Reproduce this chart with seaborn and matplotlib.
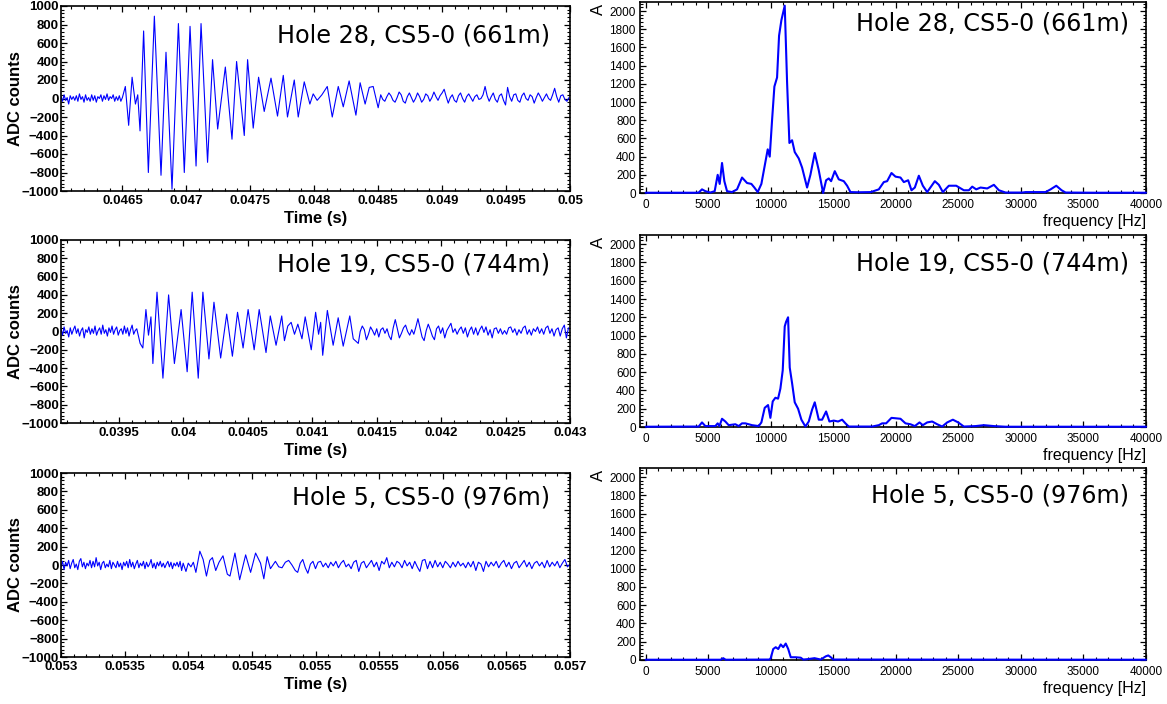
import numpy as np
import pandas as pd
import matplotlib
matplotlib.use('Agg')
import matplotlib.pyplot as plt
from matplotlib.ticker import MultipleLocator, AutoMinorLocator, FormatStrFormatter
import seaborn as sns

# ---- waveform data (time in microseconds, ADC counts) ----
# Hole 28: pre-trigger noise sampled every 12 us from 46020 us
h28_pre_start, h28_pre_step = 46020, 12
h28_pre_adc = [20, -30, 40, -20, 10, -60, 30, -10, 20, -20, 30, -30, 50, -10, 20, -40, 40, -20, 10, -30,
               40, -20, 30, -40, 20, 0, 40, -30, 30, -10, 50, -20, 20, 0, 40, -30, 20, -20, 30, -30]
# main arrival, peaks and troughs
h28_evt_us = [46500, 46523, 46549, 46576, 46602, 46620, 46638, 46666, 46703, 46750, 46802, 46841, 46888,
              46938, 46984, 47029, 47076, 47115, 47166, 47205, 47245, 47305, 47357, 47393, 47453, 47479,
              47523, 47565, 47609, 47662, 47713, 47758, 47791, 47844, 47875, 47922, 47966, 47992, 48023,
              48060, 48102, 48141, 48188, 48227, 48273, 48326, 48359, 48398, 48430, 48461, 48500]
h28_evt_adc = [10, 130, -290, 230, -60, 40, -350, 730, -800, 890, -830, 500, -980,
               810, -800, 780, -730, 810, -690, 420, -330, 340, -440, 400, -400, 420,
               -320, 230, -140, 220, -190, 250, -200, 200, -200, 180, -60, 50, -20,
               40, 130, -200, 130, -90, 190, -180, 170, -60, 120, 130, -100]
# tail, every 16 us from 48520 us
h28_tail_start, h28_tail_step = 48520, 16
h28_tail_adc = [40, -10, -30, 20, 60, 30, -20, -40, 10, 70, 40, -30, -50, 20, 60, 10, -40, 0, 60, 20,
                -40, -10, 50, 30, -30, 10, 70, 20, -20, 30, 60, 100, 20, -50, 10, 40, -20, -40, 30, 60,
                0, -40, 20, 50, 10, -30, 20, 40, -10, 0, 40, 130, 30, -30, 20, 60, -10, -40, 30, 50,
                -20, -70, 120, 20, -30, 40, 50, -20, -40, 30, 60, 0, -20, 40, 20, -50, 10, 60, 20, -30,
                10, 50, 0, -20, 40, 110, 20, -40, 30, 40, -10, -30, 10]

# Hole 19
h19_pre_start, h19_pre_step = 39050, 12
h19_pre_adc = [30, -40, 50, -20, 10, -60, 40, -30, 20, 60, -20, 30, -50, 10, 40, -70, 20, -10, 50, -30,
               30, -20, 60, -40, 10, 40, -30, 70, -20, 20, -50, 40, -10, 60, -30, 20, 50, -40, 10, 30,
               -30, 60, -20, 40, -50, 20, 70, -30, 10, 30]
h19_evt_us = [39664, 39685, 39709, 39729, 39748, 39763, 39795, 39841, 39885, 39930, 39982, 40029, 40068,
              40115, 40151, 40198, 40237, 40289, 40336, 40380, 40420, 40463, 40502, 40549, 40588, 40641,
              40674, 40719, 40763, 40784, 40810, 40836, 40862, 40888, 40920, 40945, 40992, 41026, 41049,
              41065, 41081, 41117, 41162, 41201, 41240, 41291, 41318, 41357]
h19_evt_adc = [-130, -180, 240, -40, 160, -350, 430, -510, 400, -350, 240, -440, 430,
               -510, 430, -300, 320, -290, 190, -270, 210, -180, 240, -200, 240, -230,
               170, -150, 170, -100, 60, 100, -30, 80, -80, 160, -200, 210, -30,
               100, -260, 230, -150, 150, -160, 170, -80, -130]
h19_tail_start, h19_tail_step = 41372, 16
h19_tail_adc = [0, 60, 20, -90, -30, 50, 10, -40, 30, -60, 20, 40, -20, 30, -50, -90, 40, 130, 30, -70,
                -20, 40, 70, 0, -40, 20, -30, 50, 140, 40, -60, -100, 10, 80, 20, -50, -90, 30, 60, -20,
                40, -70, 10, 50, 90, -10, 30, -30, 20, 50, -20, 40, -60, 10, 50, -30, 40, -40, 20, 60,
                -10, 50, -40, 20, -70, 30, 40, -20, 30, -30, 10, -30, 40, 50, -10, 30, -40, 20, -20, 40,
                60, -30, 20, -40, 30, 0, 50, -20, 30, -30, 40, 60, -20, 30, -50, 20, 40, -50, 30, 70,
                -70, 40]

# Hole 5
h5_pre_start, h5_pre_step = 53000, 12
h5_pre_adc = [-20, 40, -50, 30, -10, 50, -40, 20, 60, -30, 10, -50, 40, 70, -20, 30, -40, 20, -10, 50,
              -30, 40, -20, 80, -10, 30, -50, 20, 40, -30, 10, -20, 50, -40, 30, 0, -30, 40, -20, 20,
              -50, 30, -10, 40, -30, 60, -20, 30, -40, 10, 50, -30, 20, -10, 40, -40, 30, -20, 10, 60,
              -30, 20, -40, 30, -10, 40, -20, 20, -30, 10, 40, -20, 30, -40, 20, -10, 30, -20, 40, -60,
              20]
h5_evt_us = [53982, 54000, 54021, 54040, 54060, 54091, 54117, 54143, 54169, 54190, 54216, 54242, 54273,
             54307, 54328, 54367, 54404, 54451, 54490, 54529, 54568, 54594, 54620, 54646, 54685, 54711,
             54737, 54763, 54789, 54815, 54841]
h5_evt_adc = [-70, 20, -20, 30, -80, 150, 60, -120, 50, 80, -60, 30, 100,
              -100, -120, 130, -160, 110, -80, 130, 20, -150, 90, -40, 40, -20,
              -30, 30, 50, 0, -60]
h5_tail_start, h5_tail_step = 54860, 20
h5_tail_adc = [-80, 20, 60, -30, -90, 10, 40, -40, 30, 40, -20, 20, -30, 30, -10, 40, -30, 20, 50, -20,
               10, -40, 30, 50, -70, 20, 40, -30, 10, 50, -20, 30, -60, 40, 10, 80, -30, 30, -20, 40,
               20, -30, 50, -10, 30, -40, 40, -20, -70, 50, 60, -40, 40, -30, 50, -20, 30, -30, 40, 10,
               -30, 30, -20, 40, -10, 20, -30, 30, -20, 40, -60, 30, 10, -70, 40, -20, 30, -10, 40, -30,
               20, 50, -20, 30, -40, 20, 40, -30, 10, 50, -20, 30, -40, 20, 40, -10, 30, -30, 50, -20,
               30, -10, 40, -30, 20, 60, -20, 10]

# ---- spectra (frequency in Hz, |A|) ----
h28_freq = [0, 4000, 4240, 4507, 4773, 5173, 5520, 5760, 5920, 6107, 6293, 6507, 6907, 7307, 7707, 8107,
            8453, 8693, 8960, 9253, 9520, 9760, 9920, 10107, 10293, 10507, 10667, 10853, 11120, 11307,
            11493, 11707, 11920, 12240, 12507, 12907, 13173, 13520, 13840, 14187, 14427, 14640, 14827,
            15120, 15440, 15840, 16107, 16373, 17000, 18000, 18640, 19040, 19307, 19653, 19973, 20373,
            20640, 20987, 21253, 21520, 21840, 22160, 22507, 23120, 23440, 23760, 24240, 24827, 25440,
            25840, 26107, 26427, 26773, 27307, 27840, 28240, 28773, 30107, 30373, 31973, 32373, 32827,
            33253, 33573, 36000, 40000]
h28_amp = [3, 3, 5, 40, 20, 5, 20, 200, 100, 330, 130, 20, 10, 40, 170, 110,
           100, 60, 10, 100, 300, 480, 400, 800, 1170, 1270, 1730, 1900, 2060, 1220,
           550, 580, 450, 380, 280, 60, 200, 440, 250, 0, 140, 160, 130,
           240, 150, 130, 80, 10, 8, 10, 40, 120, 130, 220, 180, 170,
           120, 140, 30, 60, 190, 80, 10, 130, 90, 10, 80, 80, 30,
           30, 70, 40, 60, 50, 90, 30, 5, 5, 10, 10, 40, 80,
           30, 5, 3, 3]

h19_freq = [0, 4240, 4507, 4773, 5573, 5760, 5900, 6107, 6373, 6640, 7173, 7440, 7707, 7973, 8507, 9040,
            9253, 9520, 9787, 9973, 10160, 10373, 10587, 10773, 10960, 11120, 11227, 11387, 11520, 11707,
            11920, 12187, 12453, 12773, 13040, 13307, 13520, 13840, 14107, 14427, 14693, 15040, 15387,
            15707, 15973, 16240, 18107, 18640, 18907, 19227, 19653, 20373, 20773, 21173, 21520, 21893,
            22160, 22507, 22907, 23307, 23707, 24107, 24560, 24987, 25440, 26373, 27040, 27840, 28773,
            40000]
h19_amp = [3, 5, 50, 10, 10, 40, 10, 90, 60, 20, 30, 10, 40, 40, 20, 10,
           50, 210, 240, 100, 280, 320, 310, 420, 620, 1100, 1150, 1200, 650, 480,
           270, 200, 80, 5, 60, 190, 270, 80, 80, 170, 60, 70, 60,
           80, 40, 5, 5, 20, 40, 40, 100, 90, 40, 30, 10, 50,
           20, 50, 60, 30, 5, 50, 80, 50, 5, 10, 20, 10, 3,
           3]

h5_freq = [0, 6000, 6200, 6400, 9900, 10000, 10200, 10400, 10600, 10800, 11000, 11200, 11400, 11600,
           12000, 12400, 12600, 13000, 13500, 14000, 14400, 14600, 14800, 15000, 40000]
h5_amp = [3, 3, 20, 3, 5, 20, 120, 140, 120, 170, 140, 180, 120, 30,
          30, 25, 5, 10, 20, 5, 40, 50, 30, 5, 3]

labels = ['Hole 28, CS5-0 (661m)', 'Hole 19, CS5-0 (744m)', 'Hole 5, CS5-0 (976m)']
time_ranges = [(0.04602, 0.0500), (0.03905, 0.0430), (0.0530, 0.0570)]


def waveform(pre_start, pre_step, pre, evt_us, evt_adc, tail_start, tail_step, tail):
    t_pre = pre_start + pre_step * np.arange(len(pre))
    t_tail = tail_start + tail_step * np.arange(len(tail))
    t_us = np.concatenate([t_pre, evt_us, t_tail])
    adc = np.concatenate([pre, evt_adc, tail])
    return pd.DataFrame({'time': t_us * 1e-6, 'adc': adc})


waves = [
    waveform(h28_pre_start, h28_pre_step, h28_pre_adc, h28_evt_us, h28_evt_adc,
             h28_tail_start, h28_tail_step, h28_tail_adc),
    waveform(h19_pre_start, h19_pre_step, h19_pre_adc, h19_evt_us, h19_evt_adc,
             h19_tail_start, h19_tail_step, h19_tail_adc),
    waveform(h5_pre_start, h5_pre_step, h5_pre_adc, h5_evt_us, h5_evt_adc,
             h5_tail_start, h5_tail_step, h5_tail_adc),
]
spectra = [
    pd.DataFrame({'freq': h28_freq, 'amp': h28_amp}),
    pd.DataFrame({'freq': h19_freq, 'amp': h19_amp}),
    pd.DataFrame({'freq': h5_freq, 'amp': h5_amp}),
]

sns.set_theme(style='ticks')
plt.rcParams['font.family'] = ['Liberation Sans', 'DejaVu Sans']
plt.rcParams['axes.labelcolor'] = 'black'
plt.rcParams['text.color'] = 'black'

W, H = 1167, 704
fig = plt.figure(figsize=(W / 100, H / 100), dpi=100)

# panel boxes in pixels: (top, bottom)
left_rows = [(6, 191), (240, 423), (473, 657)]
right_rows = [(2, 193), (235, 427), (468, 660)]
left_x, left_w = 61, 509
right_x, right_w = 640, 506
left_title_off = [36, 32, 32]
right_title_off = [29, 35, 34]

BLUE = '#0000ff'


def frame(ax):
    for sp in ax.spines.values():
        sp.set_linewidth(1.2)
        sp.set_color('black')
        sp.set_visible(True)
    ax.tick_params(which='both', direction='in', top=True, right=True, colors='black')
    ax.tick_params(which='major', length=4.3, width=0.9)
    ax.tick_params(which='minor', length=2.3, width=0.8)
    ax.xaxis.set_minor_locator(AutoMinorLocator(5))
    ax.yaxis.set_minor_locator(AutoMinorLocator(5))


for i in range(3):
    # ---- waveform panel ----
    top, bot = left_rows[i]
    ax = fig.add_axes([left_x / W, 1 - bot / H, left_w / W, (bot - top) / H])
    sns.lineplot(data=waves[i], x='time', y='adc', ax=ax, color=BLUE, linewidth=0.8,
                 estimator=None, sort=False)
    ax.set_xlim(*time_ranges[i])
    ax.set_ylim(-1000, 1000)
    frame(ax)
    ax.xaxis.set_major_locator(MultipleLocator(0.0005))
    ax.xaxis.set_major_formatter(FormatStrFormatter('%g'))
    ax.yaxis.set_major_locator(MultipleLocator(200))
    ax.tick_params(axis='y', which='major', pad=1.5)
    ax.tick_params(axis='x', which='major', pad=3)
    for lab in ax.get_xticklabels() + ax.get_yticklabels():
        lab.set_fontweight('bold')
        lab.set_fontsize(9.5)
    ax.set_ylabel('ADC counts', fontsize=12, fontweight='bold', color='black')
    ax.yaxis.set_label_coords(-0.075, 0.5)
    ax.set_xlabel('Time (s)', fontsize=12, fontweight='bold', color='black')
    ax.xaxis.set_label_coords(0.5, -0.11)
    ax.text(0.9607, 1 - left_title_off[i] / (bot - top), labels[i], transform=ax.transAxes,
            ha='right', va='baseline', fontsize=17.2, family='DejaVu Sans', color='black')

    # ---- spectrum panel ----
    top, bot = right_rows[i]
    ax2 = fig.add_axes([right_x / W, 1 - bot / H, right_w / W, (bot - top) / H])
    sns.lineplot(data=spectra[i], x='freq', y='amp', ax=ax2, color=BLUE, linewidth=1.5,
                 estimator=None, sort=False, clip_on=False, zorder=5)
    ax2.set_xlim(-450, 40000)
    ax2.set_ylim(0, 2100)
    frame(ax2)
    ax2.xaxis.set_major_locator(MultipleLocator(5000))
    ax2.yaxis.set_major_locator(MultipleLocator(200))
    ax2.xaxis.set_major_formatter(FormatStrFormatter('%d'))
    ax2.yaxis.set_major_formatter(FormatStrFormatter('%d'))
    ax2.tick_params(axis='y', which='major', pad=3)
    ax2.tick_params(axis='x', which='major', pad=4)
    for lab in ax2.get_xticklabels() + ax2.get_yticklabels():
        lab.set_fontsize(8.5)
    ax2.set_ylabel('')
    ax2.set_xlabel('frequency [Hz]', fontsize=11.5, ha='right', color='black')
    ax2.xaxis.set_label_coords(1.0, -0.11)
    ax2.text(-0.083, 0.96, 'A', transform=ax2.transAxes, rotation=90,
             ha='center', va='center', fontsize=12, color='black')
    ax2.text(0.9664, 1 - right_title_off[i] / (bot - top), labels[i], transform=ax2.transAxes,
             ha='right', va='baseline', fontsize=17.2, family='DejaVu Sans', color='black')

fig.savefig('out.png', dpi=100, facecolor='white')
